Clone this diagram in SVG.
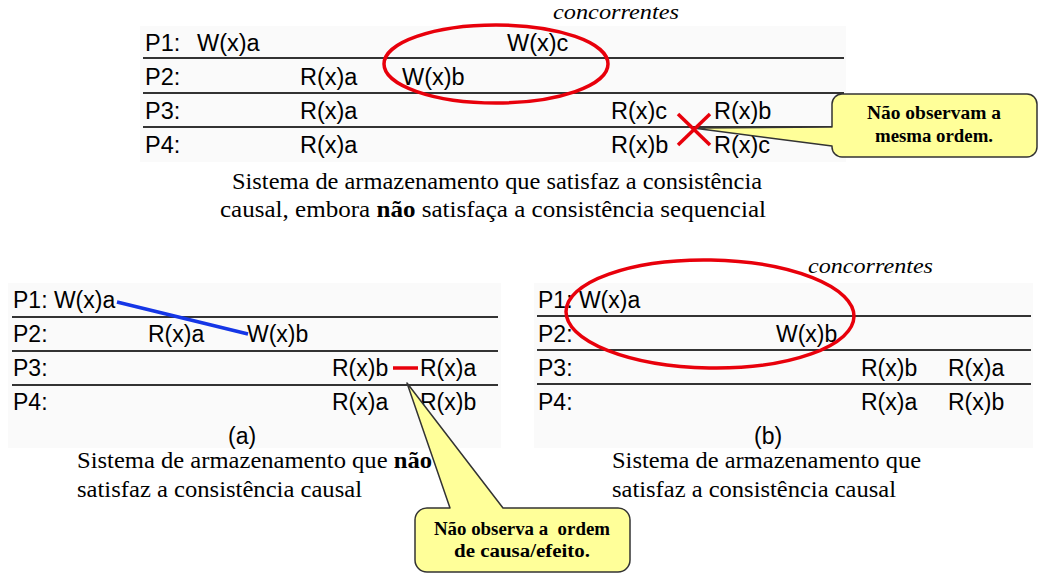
<svg xmlns="http://www.w3.org/2000/svg" width="1047" height="574" viewBox="0 0 1047 574">
<style>
.t{font-family:"Liberation Sans",Arial,sans-serif;font-size:23.5px;fill:#000}
.b{font-size:23px}
.cap{font-family:"Liberation Serif","Times New Roman",serif;font-size:23.5px;fill:#000}
.it{font-family:"Liberation Serif","Times New Roman",serif;font-size:22px;font-style:italic;fill:#000}
.co{font-family:"Liberation Serif","Times New Roman",serif;font-size:18px;font-weight:bold;fill:#000;text-anchor:middle}
.rl{stroke:#333;stroke-width:2}
.bg{fill:#fafafa}
.ell{fill:none;stroke:#e8000b;stroke-width:3.5}
.callout{fill:#ffff99;stroke:#333;stroke-width:1.5;stroke-linejoin:round}
</style>
<rect width="1047" height="574" fill="#ffffff"/>
<g id="backgrounds">
<rect class="bg" x="140" y="26" width="706" height="136"/>
<rect class="bg" x="8" y="283" width="493" height="165"/>
<rect class="bg" x="534" y="283" width="499" height="165"/>
</g>
<g id="top-diagram">
<text class="it" x="553" y="19" textLength="126" lengthAdjust="spacingAndGlyphs">concorrentes</text>
<line class="rl" x1="143" y1="58" x2="844" y2="58"/>
<line class="rl" x1="143" y1="93" x2="844" y2="93"/>
<line class="rl" x1="143" y1="127" x2="834" y2="127"/>
<g id="top-p1"><text class="t" x="145" y="51">P1:</text><text class="t" x="197" y="51">W(x)a</text><text class="t" x="507" y="51">W(x)c</text></g>
<g id="top-p2"><text class="t" x="145" y="85">P2:</text><text class="t" x="300" y="85">R(x)a</text><text class="t" x="402" y="85">W(x)b</text></g>
<g id="top-p3"><text class="t" x="145" y="119">P3:</text><text class="t" x="300" y="119">R(x)a</text><text class="t" x="611" y="119">R(x)c</text><text class="t" x="714" y="119">R(x)b</text></g>
<g id="top-p4"><text class="t" x="145" y="153">P4:</text><text class="t" x="300" y="153">R(x)a</text><text class="t" x="611" y="153">R(x)b</text><text class="t" x="714" y="153">R(x)c</text></g>
<ellipse class="ell" cx="496" cy="64" rx="112" ry="39"/>
</g>
<g id="top-caption">
<text class="cap" x="232" y="189" textLength="530" lengthAdjust="spacingAndGlyphs">Sistema de armazenamento que satisfaz a consistência</text>
<text class="cap" x="220" y="217" textLength="546" lengthAdjust="spacingAndGlyphs">causal, embora <tspan font-weight="bold">não</tspan> satisfaça a consistência sequencial</text>
</g>
<g id="callout-top">
<path class="callout" d="M842,94 H1027 A10,10 0 0 1 1037,104 V147 A10,10 0 0 1 1027,157 H842 A10,10 0 0 1 832,147 V146 L693,128 L832,127 V104 A10,10 0 0 1 842,94 Z"/>
<text class="co" x="934" y="119" textLength="134" lengthAdjust="spacingAndGlyphs">Não observam a</text>
<text class="co" x="934" y="142" textLength="118" lengthAdjust="spacingAndGlyphs">mesma ordem.</text>
</g>
<g id="left-diagram">
<line class="rl" x1="12" y1="317" x2="498" y2="317"/>
<line class="rl" x1="12" y1="351" x2="498" y2="351"/>
<line class="rl" x1="12" y1="385" x2="498" y2="385"/>
<g id="a-p1"><text class="t b" x="13" y="308">P1: W(x)a</text></g>
<g id="a-p2"><text class="t b" x="13" y="342">P2:</text><text class="t b" x="148" y="342">R(x)a</text><text class="t b" x="247" y="342">W(x)b</text></g>
<g id="a-p3"><text class="t b" x="13" y="376">P3:</text><text class="t b" x="332" y="376">R(x)b</text><text class="t b" x="420" y="376">R(x)a</text></g>
<g id="a-p4"><text class="t b" x="13" y="410">P4:</text><text class="t b" x="332" y="410">R(x)a</text><text class="t b" x="420" y="410">R(x)b</text></g>
<text class="t b" x="228" y="444">(a)</text>
</g>
<g id="connectors">
<line x1="117" y1="302" x2="248" y2="334" stroke="#1536e6" stroke-width="3.5"/>
<line x1="393" y1="368" x2="418" y2="368" stroke="#e8000b" stroke-width="3.5"/>
<line x1="678" y1="114" x2="710" y2="145" stroke="#e8000b" stroke-width="3.5"/>
<line x1="710" y1="114" x2="678" y2="145" stroke="#e8000b" stroke-width="3.5"/>
</g>
<g id="left-caption">
<text class="cap" x="77" y="468" textLength="355" lengthAdjust="spacingAndGlyphs">Sistema de armazenamento que <tspan font-weight="bold">não</tspan></text>
<text class="cap" x="77" y="497" textLength="285" lengthAdjust="spacingAndGlyphs">satisfaz a consistência causal</text>
</g>
<g id="right-diagram">
<line class="rl" x1="537" y1="316" x2="1031" y2="316"/>
<line class="rl" x1="537" y1="350" x2="1031" y2="350"/>
<line class="rl" x1="537" y1="384" x2="1031" y2="384"/>
<g id="b-p1"><text class="t b" x="538" y="308">P1: W(x)a</text></g>
<g id="b-p2"><text class="t b" x="538" y="342">P2:</text><text class="t b" x="776" y="342">W(x)b</text></g>
<g id="b-p3"><text class="t b" x="538" y="376">P3:</text><text class="t b" x="861" y="376">R(x)b</text><text class="t b" x="948" y="376">R(x)a</text></g>
<g id="b-p4"><text class="t b" x="538" y="410">P4:</text><text class="t b" x="861" y="410">R(x)a</text><text class="t b" x="948" y="410">R(x)b</text></g>
<text class="t b" x="754" y="444">(b)</text>
<text class="it" x="808" y="273" textLength="125" lengthAdjust="spacingAndGlyphs">concorrentes</text>
<ellipse class="ell" cx="710" cy="314" rx="144" ry="54" transform="rotate(1 710 314)"/>
</g>
<g id="right-caption">
<text class="cap" x="612" y="468" textLength="309" lengthAdjust="spacingAndGlyphs">Sistema de armazenamento que</text>
<text class="cap" x="612" y="497" textLength="284" lengthAdjust="spacingAndGlyphs">satisfaz a consistência causal</text>
</g>
<g id="callout-bottom">
<path class="callout" d="M427,508 H450 L407,383 L503,508 H618 A12,12 0 0 1 630,520 V560 A12,12 0 0 1 618,572 H427 A12,12 0 0 1 415,560 V520 A12,12 0 0 1 427,508 Z"/>
<text class="co" x="522" y="535" xml:space="preserve" textLength="176" lengthAdjust="spacingAndGlyphs">Não observa a  ordem</text>
<text class="co" x="522" y="557" textLength="136" lengthAdjust="spacingAndGlyphs">de causa/efeito.</text>
</g>
</svg>
